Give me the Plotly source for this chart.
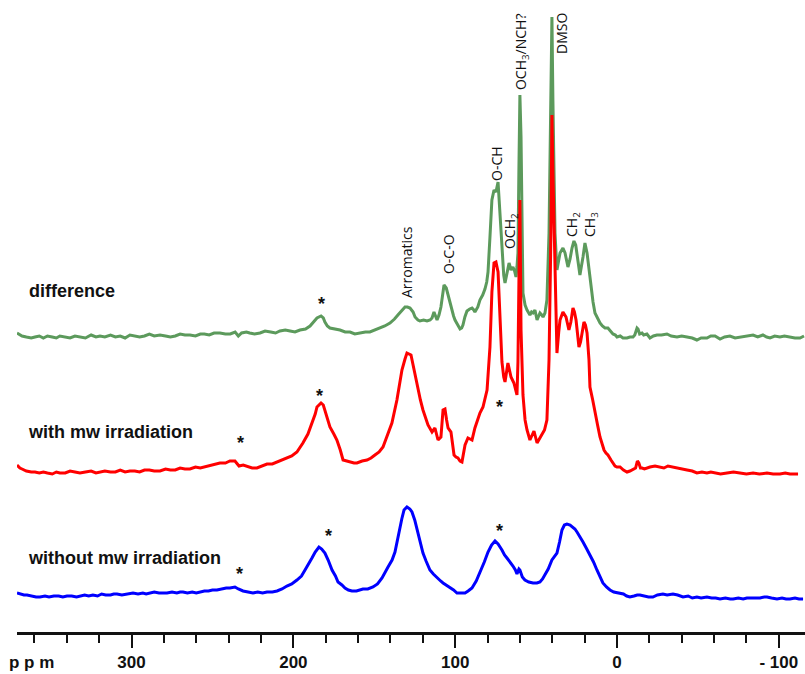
import plotly.graph_objects as go

# ---------------- data (ppm, intensity above each spectrum's own baseline) ----------------
ppm_diff = [370.8, 369.0, 367.7, 365.0, 362.0, 359.7, 357.0, 354.5, 352.0, 349.0, 346.5, 344.3,
            341.0, 338.0, 335.0, 331.9, 328.5, 325.0, 322.0, 319.5, 316.5, 313.0, 310.0, 307.0,
            304.0, 301.0, 298.0, 295.0, 292.0, 289.0, 286.0, 282.4, 279.0, 276.0, 273.0, 270.0,
            267.0, 263.9, 260.5, 257.5, 255.0, 252.0, 249.0, 245.4, 242.0, 239.0, 236.0, 234.0,
            232.0, 229.0, 227.0, 224.0, 220.6, 217.5, 214.0, 211.0, 208.3, 205.0, 202.0, 199.0,
            195.9, 192.5, 189.7, 187.5, 185.4, 182.9, 181.5, 180.5, 179.0, 177.4, 174.5, 171.2,
            168.0, 165.0, 162.0, 158.8, 155.5, 152.7, 149.5, 146.5, 143.5, 140.3, 137.5, 135.4,
            133.0, 131.0, 129.5, 127.9, 126.0, 124.8, 123.0, 121.8, 119.5, 117.4, 115.5, 114.3,
            113.1, 112.0, 111.2, 110.0, 108.8, 107.5, 106.9, 105.5, 104.4, 103.5, 102.6, 101.0,
            100.1, 98.5, 97.0, 96.0, 95.2, 94.0, 92.7, 91.0, 89.6, 88.5, 87.8, 86.0, 84.7, 83.0,
            81.6, 80.5, 79.7, 78.5, 77.3, 76.0, 74.8, 73.5, 72.3, 71.1, 70.0, 69.2, 68.0, 66.7,
            65.5, 64.3, 63.3, 62.4, 61.8, 61.2, 60.6, 60.0, 59.3, 58.7, 58.1, 56.8, 55.6, 53.8,
            52.8, 51.9, 50.7, 49.4, 48.5, 47.6, 46.5, 45.7, 44.5, 43.3, 42.0, 40.8, 40.2, 39.6,
            38.3, 37.1, 36.0, 35.2, 33.4, 32.1, 30.3, 29.0, 27.8, 26.6, 25.5, 24.7, 22.9, 21.0,
            19.8, 18.5, 17.3, 16.1, 14.8, 13.6, 12.0, 10.5, 9.0, 7.4, 5.6, 4.0, 2.5, 1.0, 0.0,
            -2.0, -3.7, -6.2, -8.0, -9.9, -11.0, -12.4, -13.0, -14.0, -15.5, -16.5, -18.5, -20.4,
            -22.5, -24.7, -27.5, -30.9, -33.5, -37.1, -40.0, -43.3, -46.5, -49.4, -52.0, -55.6,
            -58.0, -60.6, -63.7, -66.5, -69.8, -73.0, -76.0, -80.0, -84.1, -87.0, -90.2, -92.5,
            -94.6, -97.5, -100.7, -103.5, -106.9, -110.0, -113.1, -115.6]
int_diff = [4, 2, 1, 0, -1, 0, 1, -1, 1, 0, -1, 1,
            0, -1, 1, 0, -1, 2, 0, 1, 0, 2, 0, 1,
            -1, 2, 1, 0, 1, 3, 1, 2, 1, 0, 1, 3,
            2, 2, 1, 3, 3, 2, 4, 4, 3, 3, 5, 1,
            4, 5, 4, 3, 4, 6, 5, 4, 6, 7, 6, 5,
            7, 8, 11, 15, 19, 21, 19, 15, 11, 9, 8, 7,
            5, 5, 3, 4, 5, 5, 7, 9, 11, 14, 18, 22,
            27, 30, 30, 29, 25, 20, 17, 16, 17, 16, 17, 19,
            25, 20, 17, 22, 30, 45, 52, 49, 42, 36, 29, 21,
            17, 12, 8, 9, 12, 20, 26, 28, 29, 27, 25, 30, 37, 42,
            48, 55, 65, 100, 137, 147, 145, 155, 124, 84, 62, 54, 64, 74,
            67, 70, 66, 60, 70, 84, 170, 242, 200, 120, 44, 32, 27, 22,
            25, 24, 27, 17, 20, 24, 22, 20, 24, 37, 104, 237, 320, 237,
            104, 67, 76, 84, 89, 84, 70, 78, 89, 96, 92, 84, 62, 80,
            94, 84, 68, 50, 35, 24, 18, 14, 11, 9, 9, 6, 3, 2, 0,
            1, -1, -1, 0, 0, 2, 9, 8, 3, 4, 2, 3, -1,
            1, 2, 2, 3, 1, 0, 1, 0, -1, -3, -1, -1,
            1, 1, -2, 0, 1, -1, 0, 1, 2, 0, 2, 0,
            -1, 1, 0, 1, 0, -1, -1, 1]

ppm_mw = [370.8, 369.0, 367.7, 365.0, 362.0, 359.7, 357.0, 354.5, 352.0, 349.0, 346.5, 344.3,
          341.0, 338.0, 335.0, 331.9, 328.5, 325.0, 322.0, 319.5, 316.5, 313.0, 310.0, 307.0,
          304.0, 301.0, 298.0, 295.0, 292.0, 289.0, 286.0, 282.4, 279.0, 276.0, 273.0, 270.0,
          267.0, 263.9, 260.5, 257.5, 255.0, 252.0, 249.0, 245.4, 242.0, 239.2, 236.1, 234.5,
          233.6, 231.0, 228.7, 225.5, 222.5, 219.5, 216.3, 213.0, 210.1, 207.0, 204.0, 201.0,
          197.8, 194.1, 191.0, 188.5, 186.5, 185.4, 182.9, 181.5, 180.5, 179.0, 177.4, 175.0,
          173.1, 171.0, 169.3, 167.0, 165.0, 162.5, 160.7, 157.5, 154.5, 152.0, 149.6, 147.0,
          144.6, 142.0, 139.1, 136.0, 132.9, 131.0, 129.8, 127.3, 125.5, 123.0, 121.5, 119.9,
          118.0, 116.8, 114.3, 112.5, 110.6, 109.5, 108.8, 107.5, 106.3, 105.3, 104.4, 102.6,
          100.7, 99.5, 98.3, 97.0, 95.8, 93.9, 92.1, 90.8, 89.6, 87.8, 86.0, 84.7, 82.8, 80.3,
          78.5, 77.3, 76.0, 74.8, 73.5, 72.3, 71.1, 70.0, 69.2, 67.4, 65.5, 63.7, 62.4, 61.8,
          61.2, 60.6, 60.0, 59.3, 58.1, 56.8, 55.6, 53.8, 52.5, 51.3, 49.4, 48.0, 46.4, 44.8,
          43.3, 42.0, 40.8, 40.2, 39.6, 38.9, 37.7, 37.1, 36.0, 35.2, 33.4, 31.5, 29.7, 28.5,
          27.2, 26.3, 25.3, 23.5, 22.5, 21.6, 20.4, 19.5, 18.5, 17.3, 16.7, 15.0, 13.6, 12.0,
          10.5, 9.0, 8.0, 6.8, 5.6, 3.7, 2.5, 1.2, 0.0, -1.9, -4.0, -6.2, -8.0, -9.9, -11.5,
          -12.6, -13.5, -14.5, -15.5, -17.0, -18.5, -20.4, -23.5, -26.6, -29.0, -31.5, -34.0,
          -37.1, -40.0, -43.3, -46.5, -49.4, -52.5, -55.6, -58.0, -60.6, -64.0, -68.0, -72.0,
          -76.0, -80.0, -84.1, -88.0, -92.7, -96.5, -100.7, -104.0, -106.9, -109.5, -111.9]
int_mw = [7, 4, 3, 1, 0, 0, -1, 0, -1, -2, 0, -1,
          -1, 1, 0, -1, 0, 1, -1, 0, 1, 0, 0, 2,
          0, 1, 1, 0, 2, 2, 1, 1, 3, 2, 2, 4,
          3, 3, 5, 4, 5, 6, 7, 9, 9, 11, 11, 7,
          6, 7, 6, 4, 4, 6, 8, 8, 10, 12, 14, 16,
          20, 29, 38, 49, 58, 65, 69, 67, 62, 54, 45, 38,
          32, 22, 12, 11, 10, 9, 9, 11, 12, 14, 17, 20,
          25, 36, 49, 72, 102, 113, 119, 117, 102, 82, 72, 62,
          53, 47, 40, 44, 32, 34, 35, 62, 63, 52, 44, 40,
          17, 15, 14, 11, 10, 27, 34, 33, 32, 44, 52, 59, 65, 82,
          125, 180, 209, 210, 200, 150, 110, 95, 90, 109, 95, 89, 80, 77,
          110, 200, 272, 142, 77, 52, 42, 32, 37, 41, 29, 33, 37, 42,
          52, 112, 240, 357, 300, 239, 139, 119, 140, 152, 160, 155, 142, 150,
          164, 160, 152, 125, 130, 139, 150, 147, 139, 112, 85, 72, 59, 47,
          35, 27, 22, 19, 17, 12, 9, 6, 5, 5, 2, 0, 1, 3, 4,
          11, 9, 4, 4, 3, 4, 5, 6, 5, 4, 6, 5,
          4, 3, 2, 1, -1, 0, -1, 0, -1, -2, -1, 0,
          -1, -2, -1, -2, -1, -2, -2, -1, -2, -2, -2]

ppm_nomw = [370.8, 368.5, 366.5, 364.6, 362.0, 359.0, 356.6, 353.5, 351.0, 348.0, 345.0, 342.5,
            339.9, 337.0, 334.0, 332.0, 329.0, 326.5, 323.9, 321.0, 318.5, 316.0, 313.0, 311.0,
            309.0, 306.0, 303.0, 301.0, 299.1, 296.0, 293.0, 291.0, 288.6, 286.0, 283.0, 280.5,
            278.1, 275.0, 272.0, 270.0, 268.2, 265.5, 262.5, 260.0, 257.7, 255.0, 252.5, 250.0,
            247.2, 244.5, 241.5, 239.2, 236.1, 234.0, 231.1, 228.0, 225.0, 222.0, 219.0, 216.3,
            213.0, 210.1, 207.0, 204.0, 201.0, 197.8, 195.0, 192.8, 190.5, 188.5, 186.5, 184.2,
            182.5, 180.5, 178.5, 176.1, 174.0, 172.4, 170.0, 168.1, 166.0, 163.8, 161.0, 159.0,
            157.0, 154.0, 150.8, 148.0, 145.2, 141.5, 139.0, 137.2, 134.7, 133.0, 131.6, 129.8,
            128.0, 126.7, 125.0, 123.6, 122.0, 119.9, 118.0, 115.6, 113.5, 111.2, 109.0, 107.5,
            105.5, 103.2, 101.0, 98.9, 96.5, 93.9, 92.0, 89.6, 87.0, 84.7, 82.0, 79.7, 77.5,
            75.4, 73.5, 71.1, 69.5, 68.0, 66.0, 64.3, 62.8, 61.8, 60.6, 60.0, 58.5, 56.9, 54.5,
            51.9, 49.5, 47.6, 46.0, 44.5, 42.5, 40.2, 38.5, 37.1, 35.5, 34.0, 32.5, 30.9, 29.0,
            27.5, 26.0, 24.7, 23.0, 21.0, 19.0, 16.7, 14.5, 12.4, 10.5, 8.7, 6.5, 4.3, 2.0,
            -1.9, -4.0, -6.0, -8.0, -10.5, -12.5, -14.2, -17.0, -19.5, -22.2, -25.0, -28.4,
            -31.0, -34.6, -37.5, -40.8, -44.0, -46.5, -49.4, -52.0, -55.6, -58.5, -61.0, -63.7,
            -67.0, -70.0, -71.8, -75.0, -78.0, -80.3, -84.0, -88.4, -91.0, -92.7, -95.5, -98.9,
            -102.0, -104.5, -106.9, -110.0, -112.5, -115.0]
int_nomw = [4, 3, 2, 2, 1, 0, 0, 1, 0, 1, 1, 0,
            1, 1, 0, 1, 2, 1, 2, 1, 3, 2, 2, 3,
            3, 2, 3, 4, 4, 3, 4, 3, 4, 5, 4, 4,
            4, 5, 4, 5, 5, 4, 5, 4, 5, 6, 6, 7,
            7, 8, 9, 9, 10, 8, 6, 5, 4, 5, 4, 5,
            5, 6, 8, 11, 13, 17, 21, 27, 33, 39, 45, 50,
            48, 44, 37, 27, 21, 15, 12, 9, 7, 6, 6, 7,
            8, 8, 10, 13, 19, 30, 37, 45, 67, 78, 87, 90,
            88, 85, 77, 67, 56, 44, 36, 27, 23, 19, 16, 14,
            12, 9, 7, 4, 4, 4, 6, 9, 16, 24, 35, 45, 52,
            56, 53, 47, 42, 39, 35, 31, 27, 23, 28, 27, 20, 17, 15,
            14, 14, 15, 18, 22, 28, 37, 41, 44, 55, 67, 72, 73, 72,
            70, 68, 65, 61, 55, 49, 42, 35, 27, 20, 14, 10, 7, 5,
            4, 3, 1, 0, 1, 2, 2, 1, 0, 0, 2, 3,
            2, 3, 2, 0, 1, -1, 0, -1, 0, -1, -1, -2,
            -1, -2, -2, -1, -2, -1, -1, -1, 0, 0, -1, -2,
            -1, -2, -2, -1, -2, -2]

series_names = ["difference", "with mw irradiation", "without mw irradiation"]
peak_labels = ["Arromatics", "O-C-O", "O-CH", "OCH<sub>2</sub>", "OCH<sub>3</sub>/NCH?",
               "DMSO", "CH<sub>2</sub>", "CH<sub>3</sub>"]
tick_vals = [300, 200, 100, 0, -100]
tick_text = ["300", "200", "100", "0", "- 100"]

# ---------------- layout constants ----------------
offsets = [295, 160, 35]
colors = ["#5c9a5c", "#ff0000", "#0000ff"]

fig = go.Figure()
for ppm, inten, off, col, nm in [(ppm_diff, int_diff, offsets[0], colors[0], series_names[0]),
                                  (ppm_mw, int_mw, offsets[1], colors[1], series_names[1]),
                                  (ppm_nomw, int_nomw, offsets[2], colors[2], series_names[2])]:
    fig.add_trace(go.Scatter(x=ppm, y=[v + off for v in inten], mode="lines", name=nm,
                             line=dict(color=col, width=3), showlegend=False, hoverinfo="skip"))

ann = []
lab_pos = [(364.6, 341), (365.2, 200), (365.2, 74)]
for (x, y), t in zip(lab_pos, series_names):
    ann.append(dict(x=x, y=y, text="<b>%s</b>" % t, showarrow=False, xanchor="left", yanchor="middle",
                    font=dict(family="Liberation Sans, Arial, sans-serif", size=18, color="#111")))
pk_pos = [(130.4, 370), (104.4, 378), (74.8, 469), (66.1, 401), (59.3, 580), (34.6, 598),
          (27.8, 407), (16.7, 408)]
for (x, y), t in zip(pk_pos, peak_labels):
    ann.append(dict(x=x, y=y, text=t, showarrow=False, textangle=-90, xanchor="center",
                    yanchor="middle", font=dict(family="Open Sans, sans-serif", size=14, color="#111")))
star_pos = [(182.9, 333), (183.6, 241), (232.4, 194), (178.0, 101), (233.0, 63), (72.9, 230),
            (72.9, 106)]
for x, y in star_pos:
    ann.append(dict(x=x, y=y - 5, text="<b>*</b>", showarrow=False, xanchor="center", yanchor="middle",
                    font=dict(family="Liberation Sans, Arial, sans-serif", size=18, color="#111")))
ann.append(dict(x=362.0, xref="x", y=0, yref="paper", yshift=-30, text="<b>p p m</b>",
                showarrow=False, xanchor="center", yanchor="middle",
                font=dict(family="Liberation Sans Narrow, Liberation Sans, Arial", size=17, color="#111")))

fig.update_layout(
    width=805, height=674, margin=dict(l=17, r=0, t=0, b=42),
    paper_bgcolor="white", plot_bgcolor="white",
    annotations=ann,
    xaxis=dict(range=[370.8, -116.2], showgrid=False, zeroline=False, showline=True,
               linecolor="#111", linewidth=3, ticks="outside", ticklen=13, tickwidth=2,
               tickcolor="#111", tickvals=tick_vals, ticktext=["<b>%s</b>" % t for t in tick_text],
               tickfont=dict(family="Liberation Sans Narrow, Liberation Sans, Arial", size=17,
                             color="#111"),
               minor=dict(dtick=20, tick0=0, ticks="outside", ticklen=8, tickwidth=2,
                          tickcolor="#111", showgrid=False)),
    yaxis=dict(range=[0, 632], visible=False),
)
fig.write_html("out.html", config={"displayModeBar": False},
               post_script="document.body.style.margin='0';")
